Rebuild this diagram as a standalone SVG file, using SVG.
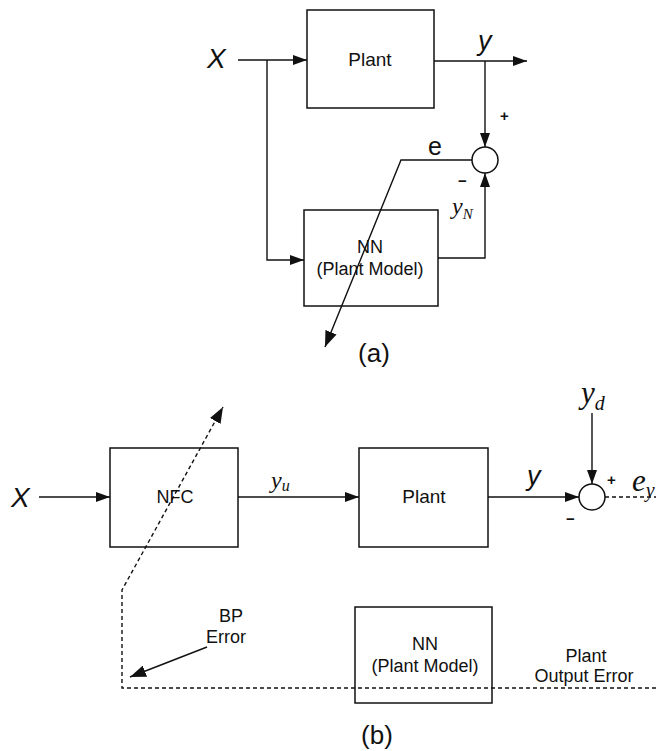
<svg xmlns="http://www.w3.org/2000/svg" width="656" height="751" viewBox="0 0 656 751">
<style>
.box{fill:none;stroke:#111;stroke-width:1.5}
.ln{fill:none;stroke:#111;stroke-width:1.4}
.dash{fill:none;stroke:#111;stroke-width:1.4;stroke-dasharray:4 3}
.sum{fill:#fff;stroke:#111;stroke-width:1.5}
.t{font-family:"Liberation Sans",Arial,sans-serif;fill:#111;text-anchor:middle}
.b{font-size:18px}
.big{font-family:"Liberation Sans",Arial,sans-serif;font-style:italic;font-size:28px;fill:#111}
.sy{font-family:"Liberation Serif","Times New Roman",serif;font-style:italic;fill:#111}
.sg{font-family:"Liberation Sans",Arial,sans-serif;font-size:15px;font-weight:bold;fill:#111}
</style>
<defs>
<marker id="ah" viewBox="0 0 14 10" refX="14" refY="5" markerWidth="14" markerHeight="10" markerUnits="userSpaceOnUse" orient="auto">
<path d="M0,0 L14,5 L0,10 z" fill="#111"/>
</marker>
<marker id="ahb" viewBox="0 0 16 12" refX="16" refY="6" markerWidth="16" markerHeight="12" markerUnits="userSpaceOnUse" orient="auto">
<path d="M0,0 L16,6 L0,12 z" fill="#111"/>
</marker>
</defs>

<g id="plant-a">
<rect class="box" x="307" y="10" width="127" height="98"/>
<text class="t b" x="370" y="66" style="font-size:19px">Plant</text>
</g>
<g id="nn-a">
<rect class="box" x="304" y="210" width="134" height="96"/>
<text class="t b" x="370" y="253">NN</text>
<text class="t b" x="370" y="275">(Plant Model)</text>
</g>
<g id="nfc">
<rect class="box" x="110" y="448" width="128" height="99"/>
<text class="t b" x="175" y="503">NFC</text>
</g>
<g id="plant-b">
<rect class="box" x="359" y="448" width="129" height="99"/>
<text class="t b" x="424" y="503" style="font-size:19px">Plant</text>
</g>
<g id="nn-b">
<rect class="box" x="355" y="607" width="137" height="96"/>
<text class="t b" x="425" y="650">NN</text>
<text class="t b" x="425" y="672">(Plant Model)</text>
</g>

<g id="connectors">
<!-- (a) -->
<line class="ln" x1="238" y1="60" x2="307" y2="60" marker-end="url(#ah)"/>
<polyline class="ln" points="267,60 267,260 304,260" marker-end="url(#ah)"/>
<line class="ln" x1="434" y1="61" x2="527" y2="61" marker-end="url(#ah)"/>
<line class="ln" x1="485" y1="61" x2="485" y2="147" marker-end="url(#ah)"/>
<polyline class="ln" points="472,160 401,160 325,347" marker-end="url(#ahb)"/>
<polyline class="ln" points="438,258 485,258 485,173" marker-end="url(#ah)"/>
<!-- (b) -->
<line class="ln" x1="39" y1="497" x2="110" y2="497" marker-end="url(#ah)"/>
<line class="ln" x1="238" y1="497" x2="359" y2="497" marker-end="url(#ah)"/>
<line class="ln" x1="488" y1="497" x2="579" y2="497" marker-end="url(#ah)"/>
<line class="ln" x1="592" y1="413" x2="592" y2="484" marker-end="url(#ah)"/>
<line class="dash" x1="605" y1="497" x2="656" y2="497"/>
<polyline class="dash" points="656,688 122,688 122,590 223,407" marker-end="url(#ahb)"/>
<line class="ln" x1="207" y1="647" x2="130" y2="677" marker-end="url(#ahb)"/>
</g>

<g id="sum-a">
<circle class="sum" cx="485" cy="160" r="13"/>
</g>
<g id="sum-b">
<circle class="sum" cx="592" cy="497" r="13"/>
</g>

<g id="labels">
<text class="big" x="207" y="68">X</text>
<text class="big" x="11" y="507">X</text>
<text class="big" x="478" y="50" style="font-size:27px">y</text>
<text class="big" x="527" y="485" style="font-size:27px">y</text>
<text class="t" x="435" y="155" style="font-size:25px">e</text>
<text class="sy" x="452" y="214" style="font-size:24px">y<tspan font-size="15" dy="5">N</tspan></text>
<text class="sy" x="271" y="488" style="font-size:24px">y<tspan font-size="16" dy="3">u</tspan></text>
<text class="sy" x="581" y="403" style="font-size:31px">y<tspan font-size="20" dy="7">d</tspan></text>
<text class="sy" x="632" y="491" style="font-size:31px">e<tspan font-size="20" dy="6">y</tspan></text>
<text class="sg" x="500" y="121">+</text>
<text class="sg" x="458" y="186">−</text>
<text class="sg" x="607" y="485">+</text>
<text class="sg" x="566" y="524">−</text>
<text class="t" x="374" y="362" style="font-size:26px">(a)</text>
<text class="t" x="377" y="744" style="font-size:26px">(b)</text>
<text class="t b" x="231" y="622">BP</text>
<text class="t b" x="226" y="643">Error</text>
<text class="t b" x="586" y="662">Plant</text>
<text class="t b" x="584" y="682">Output Error</text>
</g>
</svg>
